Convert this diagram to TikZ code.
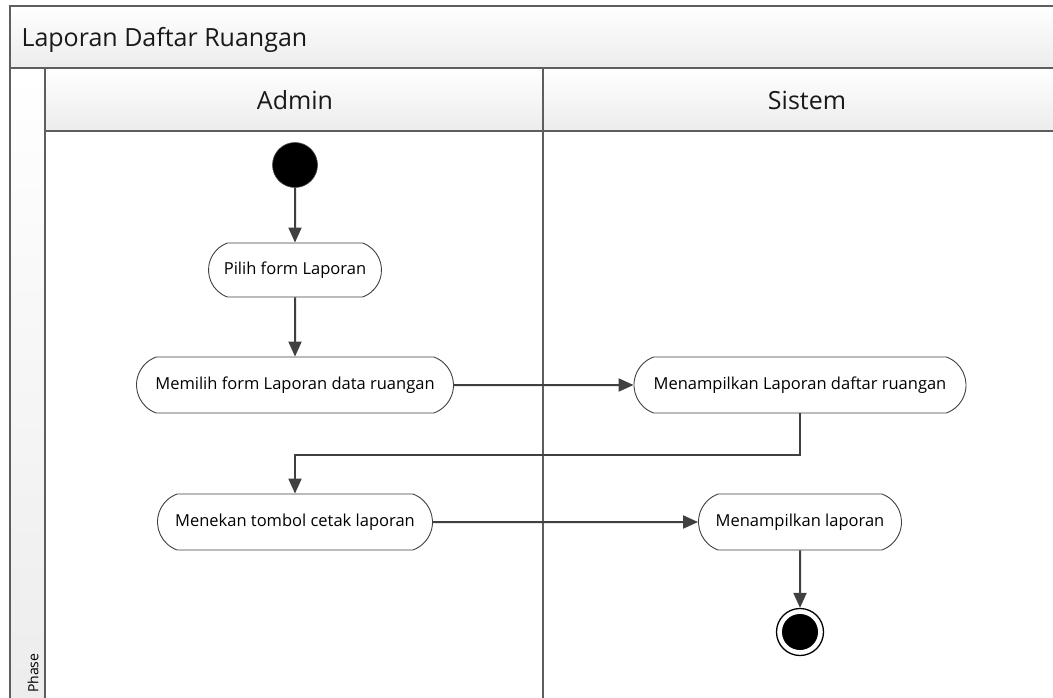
\documentclass[tikz,border=0pt]{standalone}
\usepackage{fontspec}
\setmainfont{Open Sans}
\usetikzlibrary{arrows.meta,shapes.misc}
\definecolor{framegray}{HTML}{5E5E5E}
\definecolor{ink}{HTML}{404040}
\definecolor{barshade}{HTML}{ECECEC}
\begin{document}
\begin{tikzpicture}[x=1pt,y=-1pt,
  lanebar/.style={top color=white,bottom color=barshade,draw=framegray,line width=2pt},
  laneline/.style={draw=framegray,line width=2pt},
  activity/.style={rounded rectangle,rounded rectangle arc length=140,draw=ink,
    line width=0.9pt,fill=white,minimum height=56pt,inner sep=0pt,
    font=\fontsize{16.5}{19}\selectfont},
  flow/.style={draw=ink,line width=2pt,-{Triangle[length=15pt,width=13pt]}},
  startnode/.style={circle,fill=black,draw=black!70,line width=0.6pt,minimum size=45pt,inner sep=0pt},
  endnode/.style={circle,fill=white,draw=black,line width=1.3pt,minimum size=47pt,inner sep=0pt,
    path picture={\fill[black] (path picture bounding box.center) circle[radius=18pt];}},
  headtext/.style={font=\fontsize{25}{29}\selectfont,text=black!90}]
\useasboundingbox (0,0) rectangle (1053,697);
\clip (0,0) rectangle (1053,697);
\fill[white] (0,0) rectangle (1053,697);

% pool frame: title bar, phase column and lane headers
\path[lanebar] (10,6) rectangle (1080,68);
\path[lanebar] (10,68) rectangle (45,720);
\path[lanebar] (45,68) rectangle (543,131);
\path[lanebar] (543,68) rectangle (1080,131);
\draw[laneline] (45,131) -- (45,720);
\draw[laneline] (543,131) -- (543,720);

\node[headtext,anchor=west] (title) at (18,40) {Laporan Daftar Ruangan};
\node[headtext] (admin) at (295,100) {Admin};
\node[headtext] (sistem) at (807,100) {Sistem};
\node[rotate=90,anchor=west,font=\fontsize{14}{16}\selectfont,inner sep=0pt] (phase) at (33,693) {Phase};

% activity nodes
\node[startnode] (start) at (295,165) {};
\node[activity,minimum width=173pt,minimum height=54pt] (pilih) at (295,270) {Pilih form Laporan};
\node[activity,minimum width=317pt] (memilih) at (295,385) {Memilih form Laporan data ruangan};
\node[activity,minimum width=332pt] (tampil) at (800,385) {Menampilkan Laporan daftar ruangan};
\node[activity,minimum width=275pt] (menekan) at (295,522) {Menekan tombol cetak laporan};
\node[activity,minimum width=203pt] (laporan) at (800,522) {Menampilkan laporan};
\node[endnode] (end) at (800,632) {};
\coordinate (bend) at (800,455);

% control flow
\draw[flow] (start) -- (pilih);
\draw[flow] (pilih) -- (memilih);
\draw[flow] (memilih) -- (tampil);
\draw[flow] (tampil.south) -- (bend) -| (menekan.north);
\draw[flow] (menekan) -- (laporan);
\draw[flow] (laporan) -- (end);
\end{tikzpicture}
\end{document}
